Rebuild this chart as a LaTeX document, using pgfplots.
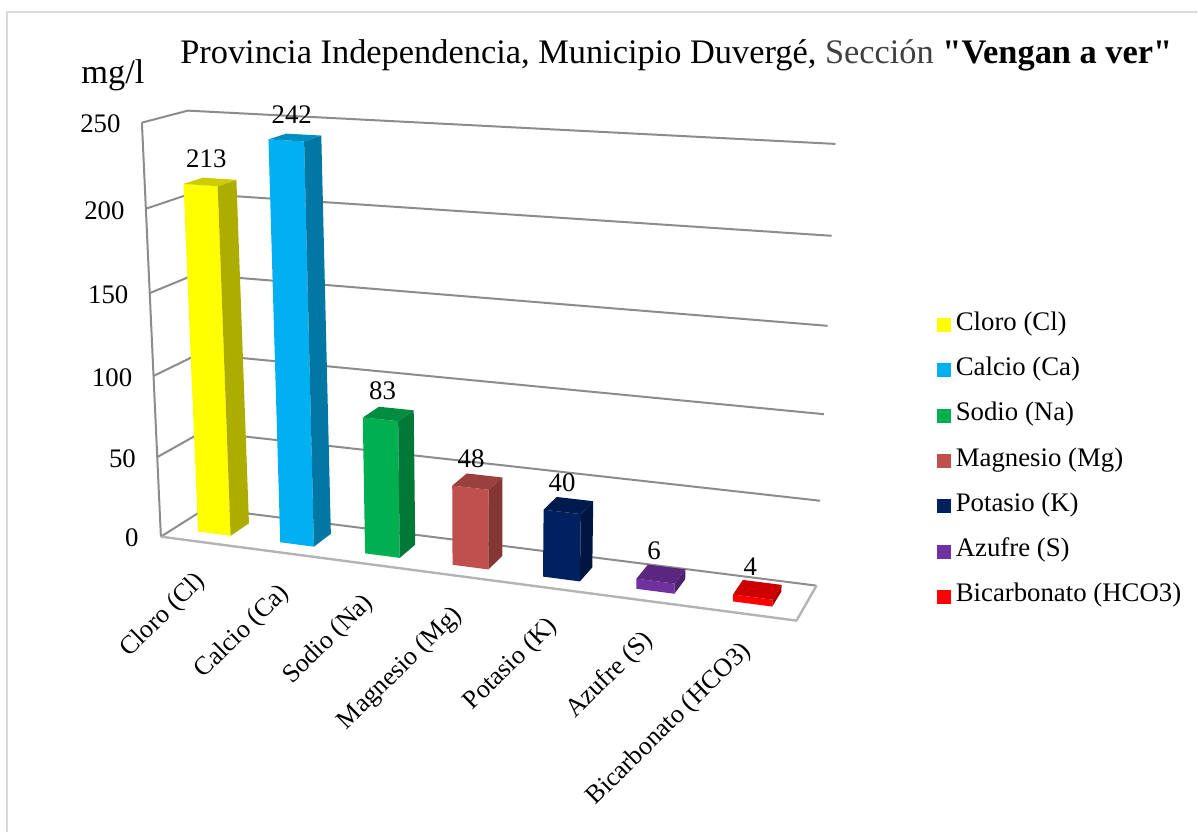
\documentclass[border=0pt]{standalone}
\usepackage{fontspec}
\setmainfont{Liberation Serif}
\newfontfamily\titlefont{Liberation Serif}
\usepackage{pgfplots}
\pgfplotsset{compat=1.18}

\definecolor{frameline}{HTML}{D9D9D9}
\definecolor{gridgray}{HTML}{8C8C8C}
\definecolor{floorgray}{HTML}{B4B4B4}
\definecolor{cCl}{HTML}{FFFF00}
\definecolor{cCa}{HTML}{00B0F0}
\definecolor{cNa}{HTML}{00B050}
\definecolor{cMg}{HTML}{C0504D}
\definecolor{cK}{HTML}{002060}
\definecolor{cS}{HTML}{7030A0}
\definecolor{cHCO}{HTML}{FF0000}

% Perspective box: u runs along the categories, s into the depth, h up the value axis.
\tikzset{declare function={
  warpu(\x)=\x/(1.119-0.119*\x);
  warph(\x)=\x/(1.05-0.05*\x);
  botx(\x,\y)=(1-\x)*(1-\y)*161+\x*(1-\y)*797+(1-\x)*\y*206+\x*\y*817;
  boty(\x,\y)=(1-\x)*(1-\y)*537+\x*(1-\y)*621+(1-\x)*\y*508.5+\x*\y*586;
  topx(\x,\y)=(1-\x)*(1-\y)*142+\x*(1-\y)*817+(1-\x)*\y*188+\x*\y*836;
  topy(\x,\y)=(1-\x)*(1-\y)*122.7+\x*(1-\y)*161+(1-\x)*\y*110.7+\x*\y*144;
  gx(\x,\y,\z)=(1-\z)*botx(\x,\y)+\z*topx(\x,\y);
  gy(\x,\y,\z)=(1-\z)*boty(\x,\y)+\z*topy(\x,\y);
}}

% Stores the projection of (u,s,h) in \<name>x and \<name>y
\newcommand{\corner}[4]{%
  \pgfmathsetmacro{\tmpx}{gx(#2,#3,#4)}\expandafter\let\csname #1x\endcsname\tmpx
  \pgfmathsetmacro{\tmpy}{gy(#2,#3,#4)}\expandafter\let\csname #1y\endcsname\tmpy
}

% One gridline per value: along the side wall, then along the back wall
\newcommand{\gridat}[1]{%
  \pgfmathsetmacro{\hh}{warph(#1/250)}%
  \corner{p}{0}{0}{\hh}\corner{q}{0}{1}{\hh}\corner{r}{1}{1}{\hh}%
  \addplot[forget plot,color=gridgray,line width=1pt,line join=round]
    coordinates {(\px,\py)(\qx,\qy)(\rx,\ry)};
  \pgfmathsetmacro{\lbx}{\px-21}%
  \pgfmathsetmacro{\lby}{\py+1.5}%
  \edef\tmpnode{\noexpand\node[anchor=east,inner sep=0pt,font=\noexpand\ticksize] at (axis cs:\lbx,\lby) {#1};}\tmpnode
}

% A 3-D column: slot index, value, base colour
\newcommand{\column}[3]{%
  \pgfmathsetmacro{\ul}{warpu((#1+0.3)/7)}%
  \pgfmathsetmacro{\ur}{warpu((#1+0.7)/7)}%
  \pgfmathsetmacro{\hh}{warph(#2/250)}%
  \def\sf{0.29}\def\sb{0.72}%
  \corner{a}{\ul}{\sf}{0}\corner{b}{\ur}{\sf}{0}\corner{c}{\ur}{\sb}{0}%
  \corner{d}{\ul}{\sf}{\hh}\corner{e}{\ur}{\sf}{\hh}\corner{f}{\ur}{\sb}{\hh}\corner{g}{\ul}{\sb}{\hh}%
  \addplot[forget plot,draw=none,fill=#3] coordinates {(\ax,\ay)(\bx,\by)(\ex,\ey)(\dx,\dy)} -- cycle;
  \addplot[forget plot,draw=none,fill=#3!68!black] coordinates {(\bx,\by)(\cx,\cy)(\fx,\fy)(\ex,\ey)} -- cycle;
  \addplot[forget plot,draw=none,fill=#3!80!black] coordinates {(\dx,\dy)(\ex,\ey)(\fx,\fy)(\gx,\gy)} -- cycle;
  \pgfmathsetmacro{\lbx}{(\dx+\fx)/2-7+4*\hh}%
  \pgfmathsetmacro{\lby}{(\dy+\fy)/2-23}%
  \edef\tmpnode{\noexpand\node[font=\noexpand\ticksize] at (axis cs:\lbx,\lby) {#2};}\tmpnode
}

\newcommand{\ticksize}{\fontsize{13.4}{15}\selectfont}
\newcommand{\catlabel}[3]{\node[anchor=east,rotate=44.5,font=\fontsize{13}{15}\selectfont,inner sep=0pt] at (axis cs:#1,#2) {#3};}

\begin{document}
\begin{tikzpicture}
\begin{axis}[
  scale only axis,width=599pt,height=416.5pt,
  xmin=0,xmax=1198,ymin=0,ymax=833,y dir=reverse,
  hide axis,clip=false,
  legend cell align=left,
  legend image code/.code={\fill[#1] (0pt,-3.5pt) rectangle (7pt,3.5pt);},
  legend style={
    at={(axis cs:937,314)},anchor=north west,draw=none,fill=none,
    font=\ticksize,inner sep=0pt,row sep=11.65pt,
    nodes={inner sep=0pt,text height=8pt,text depth=3pt},
  },
]
  % page extent
  \path (axis cs:0,0) (axis cs:1198,833);

  % chart frame
  \addplot[forget plot,color=frameline,line width=0.75pt] coordinates {(7,833)(7,12)(1198,12)};

  % walls and floor
  \gridat{50}\gridat{100}\gridat{150}\gridat{200}\gridat{250}
  \addplot[forget plot,color=gridgray,line width=1pt] coordinates {(142,122.7)(161,537)};
  \addplot[forget plot,color=gridgray,line width=1pt] coordinates {(161,537)(206,508.5)(817,586)};
  \addplot[forget plot,color=floorgray,line width=1.2pt,line join=round] coordinates {(161,537)(797,621)(817,586)};
  \node[anchor=east,inner sep=0pt,font=\ticksize] at (axis cs:139,538.5) {0};

  % columns
  \column{0}{213}{cCl}
  \column{1}{242}{cCa}
  \column{2}{83}{cNa}
  \column{3}{48}{cMg}
  \column{4}{40}{cK}
  \column{5}{6}{cS}
  \column{6}{4}{cHCO}

  % category labels
  \catlabel{202}{578}{Cloro (Cl)}
  \catlabel{286}{590}{Calcio (Ca)}
  \catlabel{370}{600}{Sodio (Na)}
  \catlabel{459}{612}{Magnesio (Mg)}
  \catlabel{554}{623}{Potasio (K)}
  \catlabel{650}{637}{Azufre (S)}
  \catlabel{748}{648}{Bicarbonato (HCO3)}

  % titles
  \node[anchor=base west,inner sep=0pt,font=\fontsize{17.2}{20}\selectfont] at (axis cs:180,64)
    {\titlefont Provincia Independencia, Municipio Duvergé, \textcolor{black!75}{Sección} \textbf{"Vengan a ver"}};
  \node[anchor=base west,inner sep=0pt,font=\fontsize{17.2}{20}\selectfont] at (axis cs:81,84) {mg/l};

  % legend
  \addlegendimage{fill=cCl,draw=none}\addlegendentry{\hspace{2.5pt}Cloro (Cl)}
  \addlegendimage{fill=cCa,draw=none}\addlegendentry{\hspace{2.5pt}Calcio (Ca)}
  \addlegendimage{fill=cNa,draw=none}\addlegendentry{\hspace{2.5pt}Sodio (Na)}
  \addlegendimage{fill=cMg,draw=none}\addlegendentry{\hspace{2.5pt}Magnesio (Mg)}
  \addlegendimage{fill=cK,draw=none}\addlegendentry{\hspace{2.5pt}Potasio (K)}
  \addlegendimage{fill=cS,draw=none}\addlegendentry{\hspace{2.5pt}Azufre (S)}
  \addlegendimage{fill=cHCO,draw=none}\addlegendentry{\hspace{2.5pt}Bicarbonato (HCO3)}
\end{axis}
\end{tikzpicture}
\end{document}
